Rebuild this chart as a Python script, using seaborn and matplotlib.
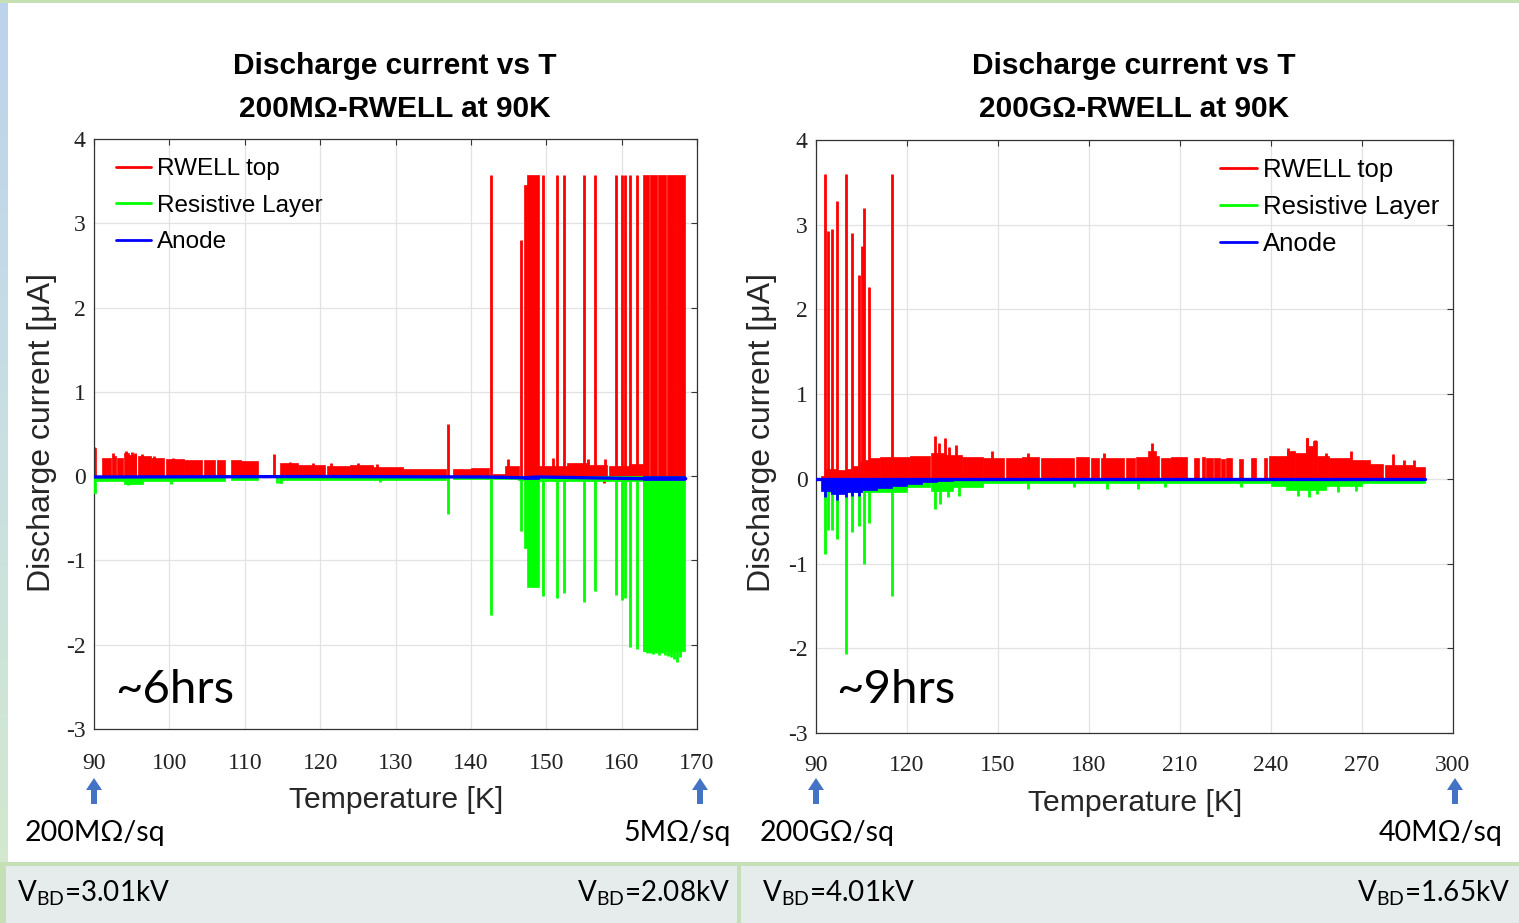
import numpy as np
import matplotlib
matplotlib.use("Agg")
import matplotlib.pyplot as plt
import seaborn as sns
from matplotlib.transforms import Affine2D
from matplotlib.patches import Rectangle, FancyArrow
from matplotlib.lines import Line2D

# ---------------------------------------------------------------- data
# Currents in uA, temperatures in K.
# Each trace is stored as a set of flat runs (start, end, level) plus
# isolated discharge spikes (T, peak).

# ---- 200 MOhm R-WELL (left)
left_top_start = [89.9, 91.0, 92.6, 93.1, 94.0, 94.6, 95.9, 97.5, 99.6, 102.0, 104.6, 106.3,
                  108.2, 109.5, 114.7, 117.0, 120.9, 124.0, 127.0, 131.0, 134.5, 137.6, 140.0,
                  143.0, 144.5, 147.05, 147.5, 149.0, 152.8, 155.5, 158.3, 161.0, 162.85,
                  163.75, 164.85, 166.05, 167.25]
left_top_end = [90.3, 92.3, 92.9, 93.8, 94.6, 95.6, 97.5, 99.3, 102.0, 104.3, 106.0, 107.4,
                109.5, 111.8, 117.0, 120.6, 124.0, 127.0, 131.0, 134.5, 136.7, 140.0, 142.4,
                144.5, 146.4, 147.5, 149.05, 152.8, 155.5, 158.0, 161.0, 162.9, 163.65,
                164.75, 165.95, 167.15, 168.45]
left_top_level = [0.33, 0.22, 0.24, 0.22, 0.28, 0.25, 0.24, 0.21, 0.20, 0.19, 0.19, 0.19,
                  0.19, 0.18, 0.15, 0.13, 0.12, 0.13, 0.11, 0.09, 0.09, 0.09, 0.10,
                  0.02, 0.12, 3.45, 3.57, 0.12, 0.15, 0.13, 0.12, 0.14, 3.57,
                  3.57, 3.57, 3.57, 3.57]
left_top_spike_T = [90.0, 92.5, 94.3, 95.0, 95.5, 96.4, 98.0, 100.5, 113.9, 116.0, 119.0, 121.5,
                    125.0, 127.5, 137.0, 142.65, 144.9, 146.6, 149.6, 150.9, 151.4, 152.4,
                    155.0, 155.6, 156.5, 157.6, 157.8, 159.2, 160.1, 160.4, 161.1, 162.1]
left_top_spike_I = [0.35, 0.28, 0.30, 0.29, 0.27, 0.26, 0.24, 0.22, 0.26, 0.17, 0.16, 0.15,
                    0.15, 0.14, 0.62, 3.57, 0.20, 2.80, 3.57, 0.22, 3.57, 3.57,
                    3.57, 0.20, 3.57, -0.08, 0.20, 3.57, 3.57, 3.57, 3.57, 3.57]

left_res_start = [89.9, 90.3, 94.0, 96.5, 108.2, 114.6, 115.0, 134.0, 137.6, 143.0, 146.3,
                  147.1, 147.5, 149.05, 162.85]
left_res_end = [90.3, 94.0, 96.5, 107.4, 111.8, 115.0, 134.0, 136.7, 142.4, 146.3, 147.1,
                147.5, 149.0, 162.85, 168.45]
left_res_level = [-0.20, -0.06, -0.09, -0.06, -0.05, -0.08, -0.05, -0.04, -0.03, -0.03, -0.05,
                  -0.85, -1.32, -0.06, -2.08]
left_res_spike_T = [94.5, 100.2, 114.3, 128.0, 137.0, 142.65, 146.6, 149.6, 151.4, 152.4, 155.0,
                    156.5, 159.2, 160.1, 160.4, 161.1, 162.1, 163.0, 163.4, 163.8, 164.2,
                    164.6, 165.0, 165.4, 165.8, 166.2, 166.6, 167.0, 167.4, 167.8, 168.2]
left_res_spike_I = [-0.10, -0.09, -0.08, -0.07, -0.45, -1.65, -0.65, -1.42, -1.44, -1.39, -1.49,
                    -1.36, -1.41, -1.47, -1.44, -2.03, -2.05, -2.08, -2.10, -2.10, -2.11,
                    -2.10, -2.12, -2.10, -2.12, -2.13, -2.14, -2.17, -2.20, -2.15, -2.05]

left_anode_start = [147.1, 162.85]
left_anode_end = [149.0, 168.45]
left_anode_level = [-0.03, -0.05]
left_anode_T = [90.0, 120.0, 142.0, 147.0, 149.0, 162.8, 168.5]
left_anode_I = [-0.01, -0.005, -0.01, -0.02, -0.01, -0.03, -0.03]

# ---- 200 GOhm R-WELL (right)
right_top_start = [91.5, 93.2, 97.0, 100.0, 102.2, 104.4, 106.0, 107.6, 111.0, 115.4, 121.0,
                   127.9, 133.0, 138.0, 145.0, 152.6, 158.0, 164.2, 170.0, 175.8, 180.6, 183.9,
                   192.2, 195.5, 199.5, 202.0, 203.7, 207.0, 214.6, 217.1, 218.7, 221.1, 223.6,
                   225.3, 226.3, 229.6, 233.4, 237.8, 239.3, 245.2, 247.9, 251.6, 252.3, 254.0,
                   255.1, 259.0, 266.0, 272.7, 277.5, 286.9]
right_top_end = [92.8, 96.5, 99.5, 101.7, 104.0, 105.1, 107.2, 111.0, 115.0, 121.0, 127.6,
                 133.0, 138.0, 145.0, 152.0, 158.0, 163.6, 170.0, 175.2, 180.0, 183.4, 191.6,
                 195.0, 199.5, 202.0, 203.2, 207.0, 212.4, 216.4, 218.2, 220.9, 223.3, 224.7,
                 226.1, 227.2, 230.7, 235.1, 238.6, 245.2, 247.9, 251.6, 252.3, 254.0, 255.1,
                 259.0, 266.0, 272.7, 277.0, 286.9, 290.8]
right_top_level = [0.03, 0.12, 0.10, 0.12, 0.15, 0.20, 0.22, 0.25, 0.26, 0.26, 0.27,
                   0.30, 0.28, 0.26, 0.25, 0.25, 0.26, 0.25, 0.25, 0.26, 0.25, 0.25,
                   0.25, 0.26, 0.33, 0.27, 0.25, 0.26, 0.25, 0.26, 0.25, 0.25, 0.24,
                   0.25, 0.25, 0.24, 0.25, 0.25, 0.27, 0.33, 0.30, 0.48, 0.39, 0.45,
                   0.27, 0.25, 0.22, 0.18, 0.16, 0.14]
right_top_spike_T = [92.97, 94.1, 95.2, 96.8, 99.8, 101.9, 104.2, 105.3, 105.8, 107.4, 115.2,
                     129.2, 130.5, 132.5, 134.0, 136.0, 148.0, 160.0, 185.0, 200.8, 245.5,
                     251.8, 254.5, 258.0, 266.3, 280.3, 284.0, 287.0]
right_top_spike_I = [3.60, 2.92, 2.95, 3.28, 3.60, 2.90, 2.41, 2.75, 3.20, 2.26, 3.60,
                     0.51, 0.42, 0.48, 0.38, 0.40, 0.33, 0.30, 0.30, 0.42, 0.36,
                     0.48, 0.46, 0.31, 0.33, 0.29, 0.22, 0.22]

right_res_start = [92.5, 120.0, 127.9, 135.0, 145.0, 240.0, 245.0, 258.0, 270.0]
right_res_end = [120.0, 127.6, 135.0, 145.0, 240.0, 245.0, 258.0, 270.0, 290.8]
right_res_level = [-0.15, -0.10, -0.14, -0.10, -0.05, -0.08, -0.13, -0.08, -0.05]
right_res_spike_T = [92.97, 94.1, 95.2, 96.8, 99.8, 101.9, 104.2, 105.8, 107.4, 115.2, 129.2,
                     131.0, 133.5, 137.0, 160.0, 175.0, 186.0, 196.0, 205.0, 230.0, 249.0,
                     252.5, 255.0, 262.0, 268.0]
right_res_spike_I = [-0.89, -0.60, -0.60, -0.71, -2.07, -0.63, -0.56, -1.00, -0.52, -1.38, -0.36,
                     -0.30, -0.22, -0.20, -0.12, -0.10, -0.12, -0.12, -0.10, -0.10, -0.20,
                     -0.22, -0.18, -0.15, -0.14]

right_anode_start = [91.5, 95.0, 100.0, 105.0, 110.0, 115.0, 120.0, 125.0, 130.0]
right_anode_end = [95.0, 100.0, 105.0, 110.0, 115.0, 120.0, 125.0, 130.0, 135.0]
right_anode_level = [-0.14, -0.18, -0.16, -0.13, -0.11, -0.08, -0.06, -0.04, -0.02]
right_anode_spike_T = [92.97, 96.8, 99.8, 101.9, 104.2]
right_anode_spike_I = [-0.22, -0.25, -0.22, -0.20, -0.20]
right_anode_T = [90.0, 150.0, 290.8]
right_anode_I = [0.0, 0.0, 0.0]

series_names = ["RWELL top", "Resistive Layer", "Anode"]
series_colors = ["#ff0000", "#00ff00", "#0000ff"]

left_xticks = [90, 100, 110, 120, 130, 140, 150, 160, 170]
right_xticks = [90, 120, 150, 180, 210, 240, 270, 300]
yticks = [-3, -2, -1, 0, 1, 2, 3, 4]

# ---------------------------------------------------------------- style
sns.set_theme(style="white")
plt.rcParams["font.family"] = ["Liberation Sans", "DejaVu Sans"]
plt.rcParams["mathtext.fontset"] = "custom"
plt.rcParams["mathtext.rm"] = "Lato"

W, H = 1519, 923
fig = plt.figure(figsize=(W / 100, H / 100), dpi=100, facecolor="white")
# pixel coordinates, origin top-left
px = Affine2D().scale(1 / W, -1 / H).translate(0, 1) + fig.transFigure


def rect(l, t, r, b):
    return [l / W, 1 - b / H, (r - l) / W, (b - t) / H]


TITLE = dict(family=["Liberation Sans", "DejaVu Sans"], weight="bold",
             fontsize=21.5, color="black", ha="center", va="center")
LABEL = dict(family=["Liberation Sans", "DejaVu Sans"],
             color="#262626", ha="center", va="center")
SLIDE = dict(family=["Lato", "DejaVu Sans"], color="black", va="center")
TICKFONT = dict(family=["Liberation Serif", "DejaVu Serif"], size=17)


def runs(ax, start, end, level, color, z):
    s = np.asarray(start)
    w = np.asarray(end) - s
    ax.bar(s, level, width=w, align="edge", color=color, edgecolor=color,
           linewidth=0.5, zorder=z)


def panel(ax, top, res, anode, xlim, xticks, legend_loc, xpad):
    (ts, te, tl, tT, tI) = top
    (rs, re_, rl, rT, rI) = res
    (as_, ae, al, aT, aI, line_T, line_I) = anode
    runs(ax, ts, te, tl, series_colors[0], 2)
    ax.vlines(tT, 0, tI, colors=series_colors[0], lw=2.0, zorder=2)
    runs(ax, rs, re_, rl, series_colors[1], 3)
    ax.vlines(rT, 0, rI, colors=series_colors[1], lw=2.0, zorder=3)
    runs(ax, as_, ae, al, series_colors[2], 4)
    if len(aT):
        ax.vlines(aT, 0, aI, colors=series_colors[2], lw=2.0, zorder=4)
    sns.lineplot(x=line_T, y=line_I, ax=ax, color=series_colors[2], lw=2.4, zorder=5)

    ax.set_xlim(*xlim)
    ax.set_ylim(-3, 4)
    ax.set_xticks(xticks)
    ax.set_yticks(yticks)
    ax.set_xticklabels([str(t) for t in xticks], fontdict=TICKFONT)
    ax.set_yticklabels([str(t) for t in yticks], fontdict=TICKFONT)
    ax.set_xlabel("")
    ax.set_ylabel("")
    ax.grid(True, color="#e2e2e2", lw=0.9)
    ax.set_axisbelow(True)
    ax.tick_params(axis="both", direction="in", length=4, width=0.8, color="#333333",
                   top=True, right=True, labelcolor="#222222")
    ax.tick_params(axis="x", pad=xpad)
    ax.tick_params(axis="y", pad=6)
    for sp in ax.spines.values():
        sp.set_color("#333333")
        sp.set_linewidth(0.9)
    handles = [Line2D([0], [0], color=c, lw=2) for c in series_colors]
    common = dict(frameon=False, handlelength=1.45, handletextpad=0.22,
                  borderpad=0, borderaxespad=0)
    if legend_loc == "left":
        leg = ax.legend(handles, series_names, loc="upper left", fontsize=17.5,
                        labelspacing=0.6,
                        bbox_to_anchor=(22 / 603, 1 - 19 / 590), **common)
    else:
        leg = ax.legend(handles, series_names, loc="upper right", fontsize=18.5,
                        labelspacing=0.5,
                        bbox_to_anchor=(1 - 14 / 637, 1 - 18 / 593), **common)
    for t in leg.get_texts():
        t.set_color("black")
    return leg


axL = fig.add_axes(rect(94, 139, 697, 729))
axR = fig.add_axes(rect(816, 140, 1453, 733))

panel(axL,
      (left_top_start, left_top_end, left_top_level, left_top_spike_T, left_top_spike_I),
      (left_res_start, left_res_end, left_res_level, left_res_spike_T, left_res_spike_I),
      (left_anode_start, left_anode_end, left_anode_level, [], [], left_anode_T, left_anode_I),
      (90, 170), left_xticks, "left", 17)
panel(axR,
      (right_top_start, right_top_end, right_top_level, right_top_spike_T, right_top_spike_I),
      (right_res_start, right_res_end, right_res_level, right_res_spike_T, right_res_spike_I),
      (right_anode_start, right_anode_end, right_anode_level, right_anode_spike_T,
       right_anode_spike_I, right_anode_T, right_anode_I),
      (90, 300), right_xticks, "right", 16)

# titles and axis labels
fig.text(395, 66, "Discharge current vs T", transform=px, **TITLE)
fig.text(395, 109, "200M\u03a9-RWELL at 90K", transform=px, **TITLE)
fig.text(1134, 66, "Discharge current vs T", transform=px, **TITLE)
fig.text(1134, 109, "200G\u03a9-RWELL at 90K", transform=px, **TITLE)

fig.text(42, 432, "Discharge current [\u03bcA]", rotation=90, fontsize=23, transform=px, **LABEL)
fig.text(762, 432, "Discharge current [\u03bcA]", rotation=90, fontsize=23, transform=px, **LABEL)
fig.text(396, 800, "Temperature [K]", fontsize=21.7, transform=px, **LABEL)
fig.text(1135, 803, "Temperature [K]", fontsize=21.7, transform=px, **LABEL)

# run durations
fig.text(115, 690, "~6hrs", fontsize=34, ha="left", transform=px, **SLIDE)
fig.text(836, 690, "~9hrs", fontsize=34, ha="left", transform=px, **SLIDE)

# surface resistivity markers
arrow_color = "#4472c4"
for x in (94, 700, 816, 1455):
    fig.add_artist(FancyArrow(x, 804, 0, -26, width=6, head_width=16, head_length=12,
                              length_includes_head=True, color=arrow_color, lw=0,
                              transform=px))
fig.text(25, 833, "200M\u03a9/sq", fontsize=20.5, ha="left", transform=px, **SLIDE)
fig.text(731, 833, "5M\u03a9/sq", fontsize=20.5, ha="right", transform=px, **SLIDE)
fig.text(760, 833, "200G\u03a9/sq", fontsize=20.5, ha="left", transform=px, **SLIDE)
fig.text(1503, 833, "40M\u03a9/sq", fontsize=20.5, ha="right", transform=px, **SLIDE)

# slide frame and breakdown-voltage strip
frame_green = "#c5e0b4"
fig.add_artist(Rectangle((0, 864), W, H - 864, facecolor="#e6ecec", edgecolor="none",
                         transform=px, zorder=-2))
fig.add_artist(Rectangle((0, 862), W, 4, facecolor=frame_green, edgecolor="none",
                         transform=px, zorder=-1))
fig.add_artist(Rectangle((737, 864), 4, H - 864, facecolor=frame_green, edgecolor="none",
                         transform=px, zorder=-1))
fig.add_artist(Rectangle((0, 0), W, 3, facecolor=frame_green, edgecolor="none",
                         transform=px, zorder=-1))
strip = fig.add_axes(rect(0, 0, 8, 862), zorder=-3)
strip.imshow(np.linspace(0, 1, 64).reshape(-1, 1), aspect="auto",
             cmap=matplotlib.colors.LinearSegmentedColormap.from_list(
                 "edge", ["#bcd3ec", "#c9dfe3", "#d3e8cf"]))
strip.set_axis_off()
fig.add_artist(Rectangle((0, 864), 6, H - 864, facecolor=frame_green, edgecolor="none",
                         transform=px, zorder=-1))

vbd = [(17, "left", "3.01"), (730, "right", "2.08"), (762, "left", "4.01"), (1510, "right", "1.65")]
for x, ha, v in vbd:
    fig.text(x, 893, r"V$_{\mathregular{BD}}$=" + v + "kV", fontsize=20, ha=ha,
             transform=px, **SLIDE)

fig.savefig("out.png", dpi=100, facecolor="white")
